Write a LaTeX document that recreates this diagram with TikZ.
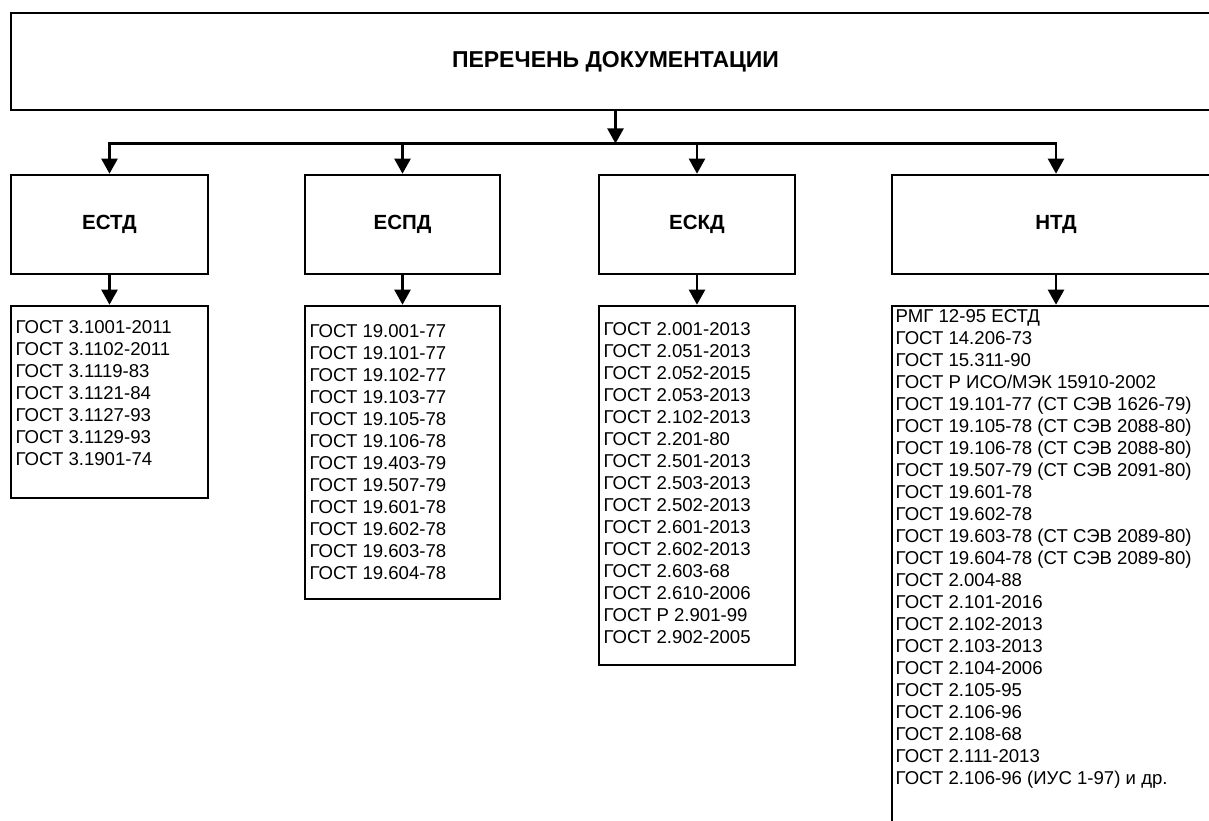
\documentclass[tikz,border=0pt]{standalone}
\usepackage{fontspec}
\setmainfont{Liberation Sans}
\usetikzlibrary{arrows.meta}

\tikzset{
  box/.style={draw, rectangle, line width=2.6pt, inner sep=0pt},
  title/.style={font=\fontsize{23}{27}\selectfont\bfseries},
  group/.style={font=\fontsize{20.5}{24}\selectfont\bfseries},
  doc/.style={font=\fontsize{18.6}{22}\selectfont, inner sep=0pt, anchor=base west},
  arr/.style={line width=2.3pt, -{Triangle[width=16pt,length=15pt]}},
}

\begin{document}
\begin{tikzpicture}[x=1pt, y=-1pt]
  \useasboundingbox (0,0) rectangle (1209,821);
  \clip (0,0) rectangle (1209,821);

  % Заголовок
  \node[box, title, minimum width=1209, minimum height=97] (perechen) at (615.5, 61.5) {ПЕРЕЧЕНЬ ДОКУМЕНТАЦИИ};

  % Группы стандартов
  \node[box, group, minimum width=197, minimum height=99] (estd) at (109.5, 224.5) {ЕСТД};
  \node[box, group, minimum width=195, minimum height=99] (espd) at (402.5, 224.5) {ЕСПД};
  \node[box, group, minimum width=196, minimum height=99] (eskd) at (697, 224.5) {ЕСКД};
  \node[box, group, minimum width=328, minimum height=99] (ntd) at (1056, 224.5) {НТД};

  % Рамки списков
  \node[box, minimum width=197, minimum height=192] (estd-list) at (109.5, 402) {};
  \node[box, minimum width=195, minimum height=293] (espd-list) at (402.5, 452.5) {};
  \node[box, minimum width=196, minimum height=359] (eskd-list) at (697, 485.5) {};
  \node[box, minimum width=328, minimum height=560] (ntd-list) at (1056, 586) {};

  % Списки документов
  \foreach \t [count=\i from 0] in {ГОСТ 3.1001-2011, ГОСТ 3.1102-2011, ГОСТ 3.1119-83,
      ГОСТ 3.1121-84, ГОСТ 3.1127-93, ГОСТ 3.1129-93, ГОСТ 3.1901-74}
    \node[doc] (estd-doc\i) at (15.5, 333+22*\i) {\t};

  \foreach \t [count=\i from 0] in {ГОСТ 19.001-77, ГОСТ 19.101-77, ГОСТ 19.102-77,
      ГОСТ 19.103-77, ГОСТ 19.105-78, ГОСТ 19.106-78, ГОСТ 19.403-79, ГОСТ 19.507-79,
      ГОСТ 19.601-78, ГОСТ 19.602-78, ГОСТ 19.603-78, ГОСТ 19.604-78}
    \node[doc] (espd-doc\i) at (309.5, 337+22*\i) {\t};

  \foreach \t [count=\i from 0] in {ГОСТ 2.001-2013, ГОСТ 2.051-2013, ГОСТ 2.052-2015,
      ГОСТ 2.053-2013, ГОСТ 2.102-2013, ГОСТ 2.201-80, ГОСТ 2.501-2013, ГОСТ 2.503-2013,
      ГОСТ 2.502-2013, ГОСТ 2.601-2013, ГОСТ 2.602-2013, ГОСТ 2.603-68, ГОСТ 2.610-2006,
      ГОСТ Р 2.901-99, ГОСТ 2.902-2005}
    \node[doc] (eskd-doc\i) at (603.5, 335.7+22*\i) {\t};

  \foreach \t [count=\i from 0] in {РМГ 12-95 ЕСТД, ГОСТ 14.206-73, ГОСТ 15.311-90,
      ГОСТ Р ИСО/МЭК 15910-2002, ГОСТ 19.101-77 (СТ СЭВ 1626-79),
      ГОСТ 19.105-78 (СТ СЭВ 2088-80), ГОСТ 19.106-78 (СТ СЭВ 2088-80),
      ГОСТ 19.507-79 (СТ СЭВ 2091-80), ГОСТ 19.601-78, ГОСТ 19.602-78,
      ГОСТ 19.603-78 (СТ СЭВ 2089-80), ГОСТ 19.604-78 (СТ СЭВ 2089-80),
      ГОСТ 2.004-88, ГОСТ 2.101-2016, ГОСТ 2.102-2013, ГОСТ 2.103-2013,
      ГОСТ 2.104-2006, ГОСТ 2.105-95, ГОСТ 2.106-96, ГОСТ 2.108-68,
      ГОСТ 2.111-2013, ГОСТ 2.106-96 (ИУС 1-97) и др.}
    \node[doc] (ntd-doc\i) at (895.5, 322+22*\i) {\t};

  % Стрелки
  \coordinate (bus) at (615.5, 143.5);
  \draw[arr] (perechen.south) -- (bus);
  \draw[line width=2.3pt, line cap=rect] (estd.north |- bus) -- (ntd.north |- bus);
  \foreach \g in {estd, espd, eskd, ntd} {
    \draw[arr] (\g.north |- bus) -- (\g.north);
    \draw[arr] (\g.south) -- (\g-list.north);
  }
\end{tikzpicture}
\end{document}
